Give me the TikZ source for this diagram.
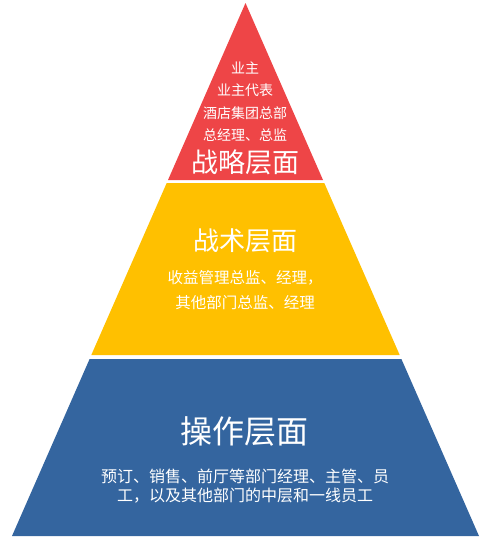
\documentclass[tikz,border=0pt]{standalone}
\usepackage{fontspec}
\setmainfont{Noto Sans CJK SC}
\definecolor{tred}{HTML}{EE4547}
\definecolor{tyel}{HTML}{FFC000}
\definecolor{tblu}{HTML}{34659F}
\begin{document}
\begin{tikzpicture}[x=1pt,y=-1pt,
  txt/.style={text=white, align=center, inner sep=0pt},
  small/.style={font=\fontsize{#1}{#1}\selectfont},
  ]
\useasboundingbox (0,0) rectangle (500,546);
% layers
\fill[tred] (245.5,3) -- (323,180) -- (168,180) -- cycle;
\fill[tyel] (166.7,183) -- (324.3,183) -- (399.7,355) -- (91.3,355) -- cycle;
\fill[tblu] (89.6,359) -- (401.4,359) -- (479,536) -- (12,536) -- cycle;
% red layer text
\node[txt, font=\fontsize{14}{22.4}\selectfont] (r1) at (245,101.5) {业主\\业主代表\\酒店集团总部\\总经理、总监};
\node[txt, font=\fontsize{27}{30}\selectfont] (r2) at (245,162) {战略层面};
% yellow layer text
\node[txt, font=\fontsize{26}{30}\selectfont] (y1) at (245,241) {战术层面};
\node[txt, font=\fontsize{15.5}{25}\selectfont] (y2) at (245,290.5) {收益管理总监、经理，\\其他部门总监、经理};
% blue layer text
\node[txt, font=\fontsize{32}{36}\selectfont] (b1) at (244,431) {操作层面};
\node[txt, font=\fontsize{16}{18.3}\selectfont] (b2) at (245,486) {预订、销售、前厅等部门经理、主管、员\\工，以及其他部门的中层和一线员工};
\end{tikzpicture}
\end{document}
